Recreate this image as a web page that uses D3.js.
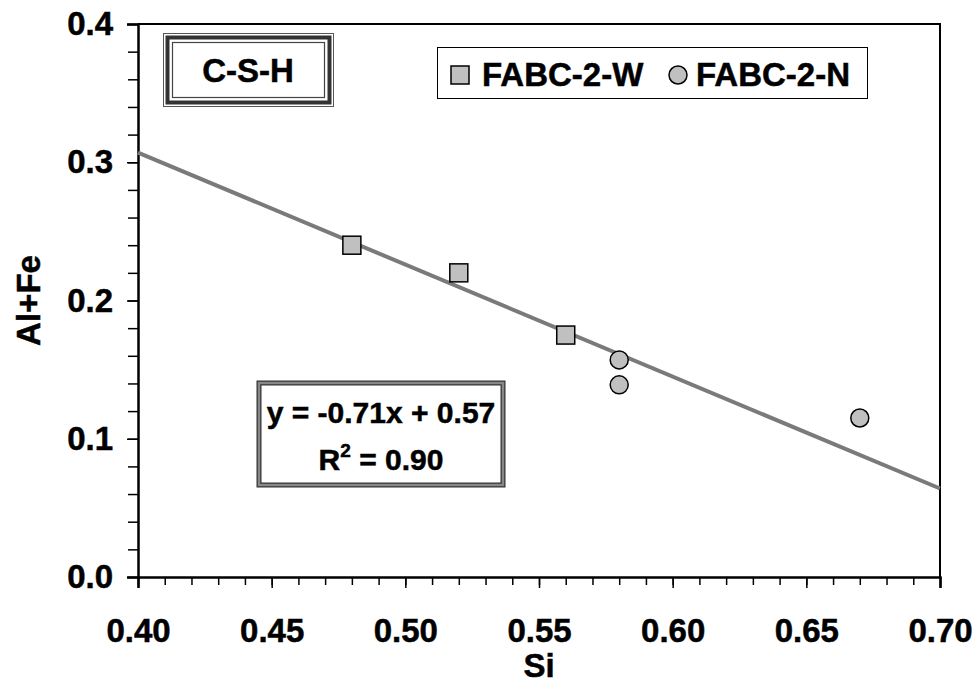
<!DOCTYPE html>
<html>
<head>
<meta charset="utf-8">
<style>
  body { margin: 0; background: #fff; }
  svg { display: block; font-family: "Liberation Sans", Arial, sans-serif; font-weight: bold; }
  text { stroke: #000; stroke-width: 0.5px; }
</style>
</head>
<body>
<script src="https://d3js.org/d3.v7.min.js"></script>
<script>

var width = 976,
    height = 690;
var margin = {"top": 24, "right": 36, "bottom": 113, "left": 138};
var fs = 33;

// data
var wSi = [0.48, 0.52, 0.56];
var wAlFe = [0.240, 0.220, 0.175];
var nSi = [0.58, 0.58, 0.67];
var nAlFe = [0.157, 0.139, 0.115];

// drawn trend line (end points as seen on the plot)
var trendSi = [0.40, 0.70];
var trendAlFe = [0.307, 0.064];

var xTicks = [0.40, 0.45, 0.50, 0.55, 0.60, 0.65, 0.70];
var yTicks = [0.0, 0.1, 0.2, 0.3, 0.4];
var seriesNames = ["FABC-2-W", "FABC-2-N"];

var svg = d3.select("body").append("svg")
    .attr("width", width)
    .attr("height", height);

var x = d3.scaleLinear().domain([0.40, 0.70]).range([margin.left, width - margin.right]);
var y = d3.scaleLinear().domain([0, 0.4]).range([height - margin.bottom, margin.top]);

// plot frame (top and right)
svg.append("path")
  .attr("d", "M" + x(0.40) + "," + y(0.4) + "H" + x(0.70) + "V" + y(0))
  .attr("fill", "none")
  .attr("stroke", "#000")
  .attr("stroke-width", 2);

// minor ticks
var xMinor = d3.range(0, 31).map(function(i) { return 0.40 + i * 0.01; });
var yMinor = d3.range(0, 21).map(function(i) { return i * 0.02; });

function styleText(g) {
  g.selectAll("text").attr("font-size", fs).attr("font-family", "Liberation Sans, Arial")
    .attr("font-weight", "bold").attr("fill", "#000");
}

svg.append("g").attr("transform", "translate(0," + y(0) + ")")
  .call(d3.axisBottom(x).tickValues(xMinor).tickSize(8).tickFormat(""))
  .call(function(g) { g.select(".domain").remove(); });
svg.append("g").attr("transform", "translate(0," + y(0) + ")")
  .call(d3.axisBottom(x).tickValues(xTicks).tickSize(11).tickPadding(31)
        .tickFormat(d3.format(".2f")))
  .call(function(g) {
    g.select(".domain").attr("stroke-width", 2.5);
    styleText(g);
  });
svg.selectAll(".tick line").attr("stroke-width", 1.5);

svg.append("g").attr("transform", "translate(" + x(0.40) + ",0)")
  .call(d3.axisLeft(y).tickValues(yMinor).tickSize(10).tickFormat(""))
  .call(function(g) { g.select(".domain").remove(); g.selectAll("line").attr("stroke-width", 1.5); });
svg.append("g").attr("transform", "translate(" + x(0.40) + ",0)")
  .call(d3.axisLeft(y).tickValues(yTicks).tickSize(11).tickPadding(14)
        .tickFormat(d3.format(".1f")))
  .call(function(g) {
    g.select(".domain").attr("stroke-width", 2.5);
    g.selectAll("line").attr("stroke-width", 1.5);
    styleText(g);
  });

// axis titles
svg.append("text")
  .attr("x", (x(0.40) + x(0.70)) / 2)
  .attr("y", 677)
  .attr("text-anchor", "middle")
  .attr("font-size", fs)
  .text("Si");

svg.append("text")
  .attr("transform", "translate(40," + y(0.2) + ") rotate(-90)")
  .attr("text-anchor", "middle")
  .attr("font-size", fs)
  .text("Al+Fe");

// trend line
svg.append("line")
  .attr("x1", x(trendSi[0])).attr("y1", y(trendAlFe[0]))
  .attr("x2", x(trendSi[1])).attr("y2", y(trendAlFe[1]))
  .attr("stroke", "#7a7a7a")
  .attr("stroke-width", 4);

// markers
var wData = wSi.map(function(d, i) { return [d, wAlFe[i]]; });
var nData = nSi.map(function(d, i) { return [d, nAlFe[i]]; });

svg.selectAll(".sq").data(wData).enter().append("rect")
  .attr("class", "sq")
  .attr("x", function(d) { return x(d[0]) - 9; })
  .attr("y", function(d) { return y(d[1]) - 9; })
  .attr("width", 18).attr("height", 18)
  .attr("fill", "#c0c0c0").attr("stroke", "#000").attr("stroke-width", 1.5);

svg.selectAll(".ci").data(nData).enter().append("circle")
  .attr("class", "ci")
  .attr("cx", function(d) { return x(d[0]); })
  .attr("cy", function(d) { return y(d[1]); })
  .attr("r", 9)
  .attr("fill", "#c0c0c0").attr("stroke", "#000").attr("stroke-width", 1.5);

// C-S-H label box
var lab = svg.append("g");
lab.append("rect").attr("x", 163.5).attr("y", 33.5).attr("width", 170).attr("height", 73)
  .attr("fill", "#fff").attr("stroke", "#555").attr("stroke-width", 1);
lab.append("rect").attr("x", 167.5).attr("y", 37.5).attr("width", 162).attr("height", 65)
  .attr("fill", "none").attr("stroke", "#333").attr("stroke-width", 4);
lab.append("rect").attr("x", 172.5).attr("y", 42.5).attr("width", 152).attr("height", 55)
  .attr("fill", "none").attr("stroke", "#444").attr("stroke-width", 1.2);
lab.append("text").attr("x", 248).attr("y", 82).attr("text-anchor", "middle")
  .attr("font-size", fs).text("C-S-H");

// legend
var leg = svg.append("g");
leg.append("rect").attr("x", 437.5).attr("y", 47.5).attr("width", 430).attr("height", 51)
  .attr("fill", "#fff").attr("stroke", "#000").attr("stroke-width", 1);
leg.append("rect").attr("x", 451).attr("y", 66).attr("width", 18).attr("height", 18)
  .attr("fill", "#c0c0c0").attr("stroke", "#000").attr("stroke-width", 1.5);
leg.append("text").attr("x", 482).attr("y", 86).attr("font-size", fs).text(seriesNames[0]);
leg.append("circle").attr("cx", 678).attr("cy", 75).attr("r", 9)
  .attr("fill", "#c0c0c0").attr("stroke", "#000").attr("stroke-width", 1.5);
leg.append("text").attr("x", 696).attr("y", 86).attr("font-size", fs).text(seriesNames[1]);

// equation box
var eq = svg.append("g");
eq.append("rect").attr("x", 259).attr("y", 383).attr("width", 244).attr("height", 102)
  .attr("fill", "#fff").attr("stroke", "#333").attr("stroke-width", 5);
eq.append("rect").attr("x", 259).attr("y", 383).attr("width", 244).attr("height", 102)
  .attr("fill", "none").attr("stroke", "#888").attr("stroke-width", 2.5);
eq.append("text").attr("x", 381).attr("y", 423).attr("text-anchor", "middle")
  .attr("font-size", 30).text("y = -0.71x + 0.57");
var r2 = eq.append("text").attr("x", 381).attr("y", 470).attr("text-anchor", "middle")
  .attr("font-size", 30);
r2.append("tspan").text("R");
r2.append("tspan").attr("dy", -13).attr("font-size", 19).text("2");
r2.append("tspan").attr("dy", 13).text(" = 0.90");

</script>
</body>
</html>
